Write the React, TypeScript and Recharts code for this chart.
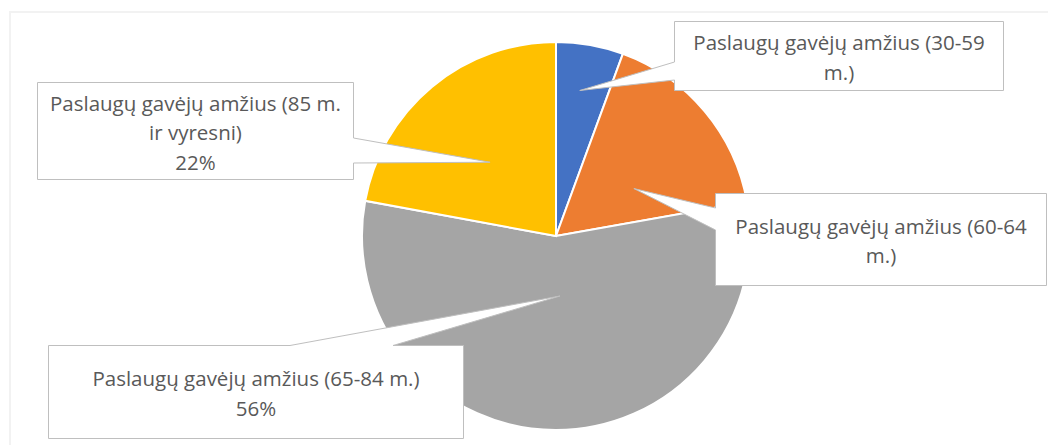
import React from 'react';
import { PieChart, Pie, Cell } from 'recharts';

// age groups of service recipients and their share (%)
const categories = [
  'Paslaugų gavėjų amžius (30-59 m.)',
  'Paslaugų gavėjų amžius (60-64 m.)',
  'Paslaugų gavėjų amžius (65-84 m.)',
  'Paslaugų gavėjų amžius (85 m. ir vyresni)',
];
const shares = [5.6, 16.6, 55.7, 22.1];

// how each callout text is wrapped, and whether it shows the percentage
const labelLines = [
  ['Paslaugų gavėjų amžius (30-59', 'm.)'],
  ['Paslaugų gavėjų amžius (60-64', 'm.)'],
  ['Paslaugų gavėjų amžius (65-84 m.)'],
  ['Paslaugų gavėjų amžius (85 m.', 'ir vyresni)'],
];
const showPercent = [false, false, true, true];

const COLORS = ['#4472C4', '#ED7D31', '#A5A5A5', '#FFC000'];

const data = categories.map((name, i) => ({ name, value: shares[i] }));

// callout boxes: rect, the edge the pointer leaves from, and where the pointer lands in the slice
type Callout = {
  x: number; y: number; w: number; h: number;
  side: 'left' | 'right' | 'top';
  from: number; to: number;
  turn: number; depth: number;
};
const CALLOUTS: Callout[] = [
  { x: 674.5, y: 21.5, w: 329, h: 69, side: 'left', from: 62, to: 80, turn: 0.8, depth: 0.76 },
  { x: 715.5, y: 193.5, w: 331, h: 92, side: 'left', from: 208, to: 230, turn: -8.6, depth: 0.47 },
  { x: 48.5, y: 345.5, w: 415, h: 93, side: 'top', from: 290, to: 393, turn: 4, depth: 0.31 },
  { x: 37.5, y: 82.5, w: 316, h: 97, side: 'right', from: 138, to: 163, turn: 2, depth: 0.51 },
];

const RAD = Math.PI / 180;

const renderCallout = (props: any) => {
  const { cx, cy, midAngle, outerRadius, percent, index } = props;
  const c = CALLOUTS[index];
  const a = (midAngle + c.turn) * RAD;
  const r = outerRadius * c.depth;
  const tx = cx + r * Math.cos(a);
  const ty = cy - r * Math.sin(a);
  const { x, y, w, h, from, to } = c;
  let d: string;
  if (c.side === 'left') {
    d = `M${x},${y} H${x + w} V${y + h} H${x} V${to} L${tx},${ty} L${x},${from} Z`;
  } else if (c.side === 'right') {
    d = `M${x},${y} H${x + w} V${from} L${tx},${ty} L${x + w},${to} V${y + h} H${x} Z`;
  } else {
    d = `M${x},${y} H${from} L${tx},${ty} L${to},${y} H${x + w} V${y + h} H${x} Z`;
  }
  const lines = [...labelLines[index]];
  if (showPercent[index]) lines.push(`${Math.round(percent * 100)}%`);
  const lh = 29.5;
  const y0 = y + h / 2 - ((lines.length - 1) * lh) / 2 + 1;
  return (
    <g key={`callout-${index}`}>
      <path d={d} fill="#ffffff" stroke="#BFBFBF" strokeWidth={1} strokeLinejoin="miter" />
      <text
        textAnchor="middle"
        fill="#595959"
        fontFamily="'Open Sans', Lato, sans-serif"
        fontSize={20.5}
      >
        {lines.map((line, i) => (
          <tspan key={i} x={x + w / 2} y={y0 + i * lh} dominantBaseline="central">
            {line}
          </tspan>
        ))}
      </text>
    </g>
  );
};

export default function App() {
  return (
    <div style={{ position: 'absolute', left: 0, top: 0, width: 1048, height: 445, background: '#fff', overflow: 'hidden' }}>
      <div
        style={{
          position: 'absolute',
          left: 9,
          top: 11,
          width: 1100,
          height: 500,
          border: '2px solid #F2F2F2',
          boxSizing: 'border-box',
        }}
      />
      <div style={{ position: 'absolute', left: 0, top: 0 }}>
        <PieChart width={1048} height={445} margin={{ top: 0, right: 0, bottom: 0, left: 0 }}>
          <Pie
            data={data}
            dataKey="value"
            nameKey="name"
            cx={556}
            cy={236}
            outerRadius={194}
            startAngle={90}
            endAngle={-270}
            stroke="#ffffff"
            strokeWidth={2}
            label={renderCallout}
            labelLine={false}
            isAnimationActive={false}
          >
            {data.map((_, i) => (
              <Cell key={`cell-${i}`} fill={COLORS[i]} />
            ))}
          </Pie>
        </PieChart>
      </div>
    </div>
  );
}
